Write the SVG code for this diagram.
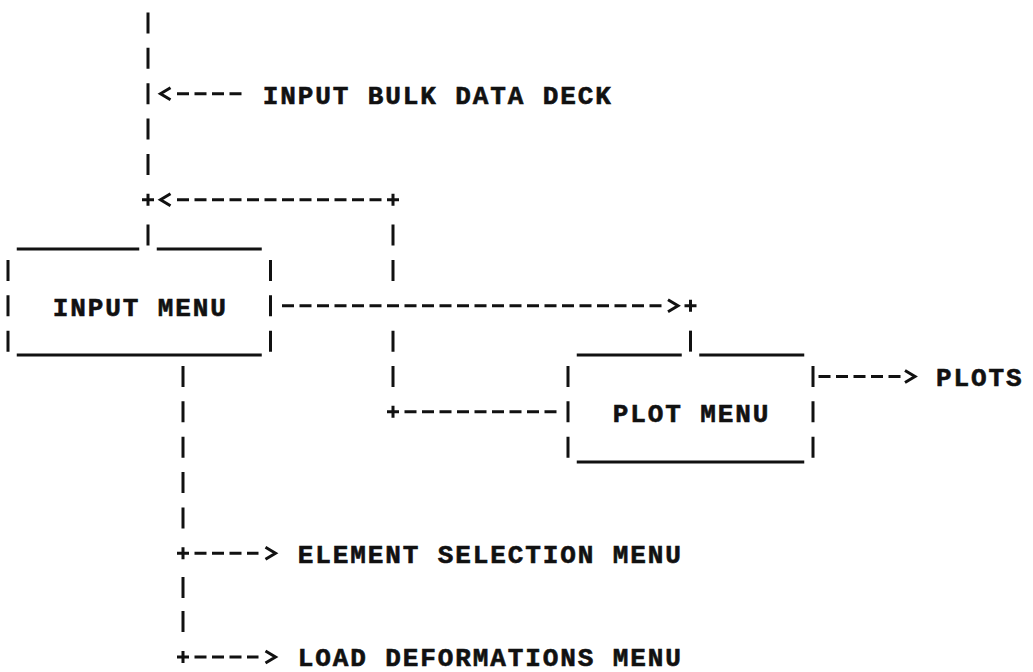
<svg xmlns="http://www.w3.org/2000/svg" width="1033" height="672" viewBox="0 0 1033 672">
<style>
.ln{stroke:#111;stroke-width:3;fill:none;stroke-linecap:butt;stroke-linejoin:miter}
.dash{stroke-dasharray:12 5.5}
.t{font-family:"Liberation Mono","DejaVu Sans Mono",monospace;font-weight:bold;font-size:26px;letter-spacing:1.9px;fill:#111;stroke:#111;stroke-width:0.6}
</style>
<rect width="1033" height="672" fill="#fff"/>
<g id="connectors">
  <path class="ln" d="M148 12.5v21M148 47.85v21M148 83.2v21M148 118.55v21M148 153.9v21M148 224.6v21"/>
  <path class="ln" d="M393 224.6v21M393 259.95v21M393 330.65v21M393 366v21"/>
  <path class="ln" d="M690.5 330.65v21"/>
  <path class="ln" d="M183 366v21M183 401.35v21M183 436.7v21M183 472.05v21M183 507.4v21M183 577v21M183 611v21"/>
  <path class="ln" d="M142 199.75h12M148 193.75v12M387 199.75h12M393 193.75v12M684.5 305.8h12M690.5 299.8v12M387 411.85h12M393 405.85v12M177 553.25h12M183 547.25v12M177 657h12M183 651v12"/>
  <path class="ln" d="M170.5 87.7L160.5 93.7L170.5 99.7M170.5 193.75L160.5 199.75L170.5 205.75M668 299.8L678 305.8L668 311.8M905 370.5L915 376.5L905 382.5M265.5 547.25L275.5 553.25L265.5 559.25M265.5 651L275.5 657L265.5 663"/>
  <path class="ln dash" d="M177 93.7H241.5M177 199.75H381.5M282 305.8H661.5M818.5 376.5H900.5M404.5 411.85H556.5M194.5 553.25H258.5M194.5 657H258.5"/>
</g>
<g id="node-input-bulk-data-deck">
  <text class="t" x="262.7" y="103.5">INPUT BULK DATA DECK</text>
</g>
<g id="node-input-menu">
  <path class="ln" d="M8 259.95v21M8 295.3v21M8 330.65v21M270.5 259.95v21M270.5 295.3v21M270.5 330.65v21M16.75 249H139.25M156.75 249H261.75M16.75 355H261.75"/>
  <text class="t" x="52.75" y="315.5">INPUT MENU</text>
</g>
<g id="node-plot-menu">
  <path class="ln" d="M568 366v21M568 401.35v21M568 436.7v21M813 366v21M813 401.35v21M813 436.7v21M576.75 355H681.75M699.25 355H804.25M576.75 462H804.25"/>
  <text class="t" x="612.75" y="421.5">PLOT MENU</text>
</g>
<g id="node-plots">
  <text class="t" x="936" y="386.2">PLOTS</text>
</g>
<g id="node-element-selection-menu">
  <text class="t" x="297.75" y="562.5">ELEMENT SELECTION MENU</text>
</g>
<g id="node-load-deformations-menu">
  <text class="t" x="297.75" y="665.5">LOAD DEFORMATIONS MENU</text>
</g>
</svg>
